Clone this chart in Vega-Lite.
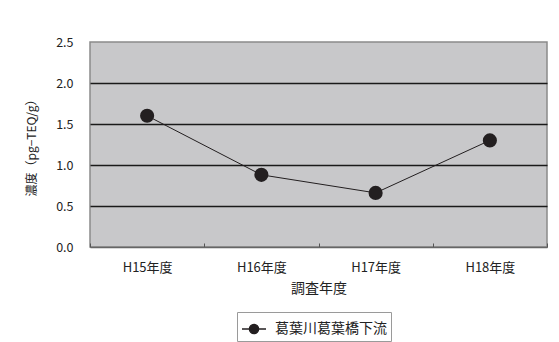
{
  "$schema": "https://vega.github.io/schema/vega-lite/v6.json",
  "width": 457,
  "height": 205,
  "autosize": {"type": "none"},
  "padding": {"left": 90, "top": 42, "right": 12, "bottom": 95},
  "background": "white",
  "config": {
    "font": "Noto Sans CJK JP",
    "view": {"fill": "#c8c8ca", "stroke": "#8a8a8a", "strokeWidth": 1.5}
  },
  "data": {
    "values": [
      {"年度": "H15年度", "濃度": 1.6, "地点": "葛葉川葛葉橋下流"},
      {"年度": "H16年度", "濃度": 0.88, "地点": "葛葉川葛葉橋下流"},
      {"年度": "H17年度", "濃度": 0.66, "地点": "葛葉川葛葉橋下流"},
      {"年度": "H18年度", "濃度": 1.3, "地点": "葛葉川葛葉橋下流"}
    ]
  },
  "encoding": {
    "x": {
      "field": "年度",
      "type": "nominal",
      "sort": null,
      "scale": {"paddingInner": 0, "paddingOuter": 0},
      "axis": {
        "title": "調査年度",
        "titleFontSize": 14,
        "titleFontWeight": "normal",
        "titleColor": "#222",
        "titlePadding": 7,
        "labelAngle": 0,
        "labelFontSize": 13,
        "labelColor": "#222",
        "labelPadding": 18,
        "tickBand": "extent",
        "tickSize": -4,
        "tickColor": "#555",
        "domain": true,
        "domainColor": "#666",
        "domainWidth": 1.5,
        "grid": false
      }
    },
    "y": {
      "field": "濃度",
      "type": "quantitative",
      "scale": {"domain": [0, 2.5], "nice": false},
      "axis": {
        "title": "濃度（pg−TEQ/g）",
        "titleFontSize": 12,
        "titleFontWeight": "normal",
        "titleColor": "#222",
        "titlePadding": 17,
        "values": [0, 0.5, 1, 1.5, 2, 2.5],
        "format": ".1f",
        "labelFontSize": 12.5,
        "labelColor": "#222",
        "labelPadding": 17,
        "ticks": false,
        "domain": false,
        "grid": true,
        "gridColor": "#1a1a1a",
        "gridWidth": 1.5,
        "gridOpacity": {"condition": {"test": "datum.value > 0 && datum.value < 2.5", "value": 1}, "value": 0}
      }
    },
    "color": {
      "field": "地点",
      "type": "nominal",
      "scale": {"range": ["#231f20"]},
      "legend": {
        "title": null,
        "orient": "none",
        "legendX": 147,
        "legendY": 270,
        "labelFontSize": 14,
        "labelColor": "#222",
        "labelOffset": 8,
        "symbolType": "M-1,0L1,0M-0.38,0A0.38,0.38,0,1,0,0.38,0A0.38,0.38,0,1,0,-0.38,0Z",
        "symbolSize": 576,
        "symbolStrokeWidth": 1.5,
        "symbolFillColor": "#231f20",
        "symbolStrokeColor": "#231f20",
        "strokeColor": "#9a9a9a",
        "fillColor": "white",
        "padding": 4
      }
    }
  },
  "layer": [
    {"mark": {"type": "line", "strokeWidth": 1, "color": "#231f20"}},
    {"mark": {"type": "point", "filled": true, "size": 200, "opacity": 1, "color": "#231f20"}}
  ]
}
